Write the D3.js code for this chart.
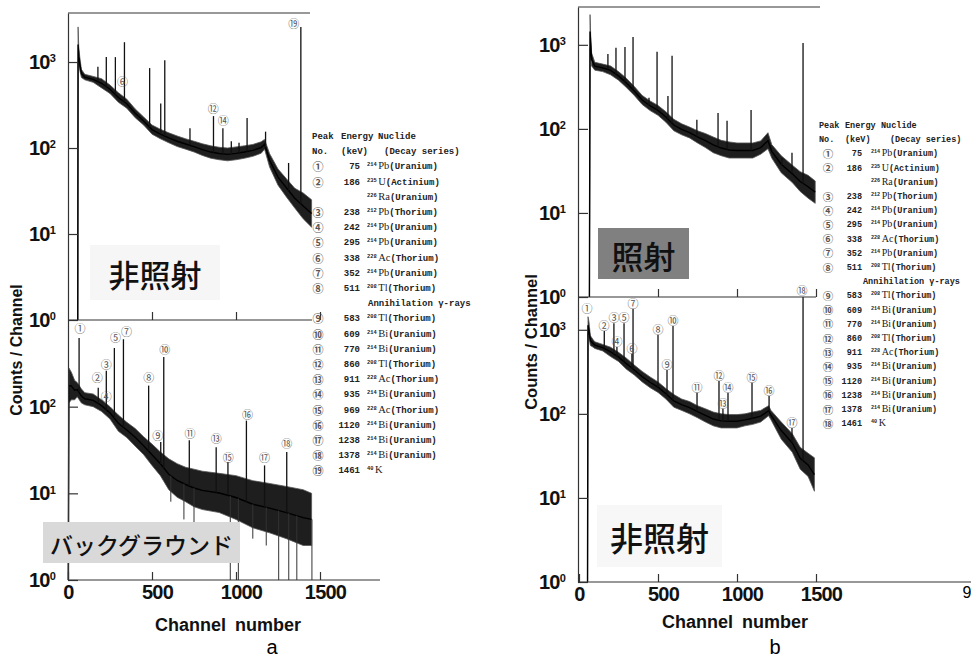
<!DOCTYPE html>
<html>
<head>
<meta charset="utf-8">
<style>
  body { margin: 0; background: #fff; }
  svg { display: block; }
  .tick line, .domain, .frame { stroke: #333; stroke-width: 1.2; }
  .ylab text, .xlab text { font-family: "Liberation Sans", Arial, sans-serif; font-weight: bold; font-size: 20px; fill: #111; letter-spacing: -0.8px; }
  .leg { font-family: "Liberation Mono", "DejaVu Sans Mono", monospace; font-weight: bold; fill: #222; }
  .circ { font-family: "Noto Sans CJK JP", sans-serif; fill: #555; }
  .title { font-family: "Liberation Sans", Arial, sans-serif; font-weight: bold; fill: #111; }
  .jp { font-family: "Noto Sans CJK JP", sans-serif; font-weight: 500; fill: #111; }
</style>
</head>
<body>
<script src="https://cdn.jsdelivr.net/npm/d3@7"></script>
<script>

// ---- data ----
// continuum: [channel, low edge of noise band, high edge of noise band]
var aTopCont = [[58,1,1],[60,1000,2560],[64,900,1500],[70,800,1150],[80,660,820],[100,620,720],
  [150,580,680],[200,500,640],[250,430,540],[300,340,440],[350,290,370],[400,225,285],[450,185,230],
  [500,145,185],[550,128,165],[600,115,150],[650,104,138],[700,97,128],[750,90,120],[800,82,112],
  [850,76,106],[900,73,102],[950,71,100],[1000,73,103],[1050,76,106],[1100,80,110],[1150,87,118],
  [1170,97,126],[1200,60,86],[1250,37,57],[1300,27,44],[1350,20,34],[1400,15,30],[1450,12,25]];
// spikes: [channel, top]
var aTopSpikes = [[178,880],[228,1140],[282,1140],[325,350],[336,1700],[420,240],[486,850],[552,330],
  [576,1050],[726,170],[866,235],[922,170],[972,120],[1018,115],[1066,223],[1176,155],[1313,67],[1386,2560]];
// labels: [peak no, channel, value]
var aTopLabels = [[6,324,600],[12,864,293],[14,924,212],[19,1344,2840]];

var aBotCont = [[2,1,1],[5,110,280],[20,120,250],[40,120,200],[55,130,190],[80,110,160],[100,105,145],
  [150,100,140],[200,88,120],[250,72,100],[300,52,80],[350,44,66],[400,35,56],[450,28,45],[500,21,37],
  [550,16,30],[600,11,25],[650,9,22],[700,8,20],[750,7,19],[800,6.5,18],[900,6,17],[1000,5,16],
  [1100,4,14],[1200,3.5,13],[1300,3,12],[1400,2.5,11],[1450,2.5,10]];
var aBotSpikes = [[66,620],[180,165],[228,260],[276,475],[330,600],[480,175],[552,39],[570,375],
  [722,41],[882,34],[952,23],[1062,69],[1170,21],[1302,30]];
var aBotDips = [[612,8],[690,5],[750,4],[966,1],[1014,1],[1100,3],[1180,2.5],[1254,1],[1314,1],[1362,1],[1452,1]];
var aBotLabels = [[1,72,810],[2,174,219],[3,228,310],[4,228,132],[5,282,630],[7,348,745],[8,480,219],
  [9,534,47],[10,576,460],[11,726,50],[13,882,43],[15,954,26],[16,1068,82],[17,1170,26],[18,1302,38]];

var bTopCont = [[66,1,1],[70,900,2290],[74,800,1300],[80,560,800],[100,500,620],[150,480,590],
  [200,440,560],[250,380,480],[300,310,400],[350,250,320],[400,195,250],[450,165,215],[500,145,190],
  [550,120,160],[600,95,130],[650,85,115],[700,78,105],[750,68,95],[800,60,88],[850,52,80],[900,48,73],
  [950,45,70],[1000,45,68],[1050,45,68],[1100,45,68],[1150,50,72],[1196,58,90],[1220,45,65],
  [1280,30,48],[1350,23,37],[1400,18,31],[1450,15,28],[1495,13,24]];
var bTopSpikes = [[183,780],[234,920],[291,940],[342,1240],[443,234],[494,830],[563,246],[589,740],
  [746,128],[880,155],[937,125],[1089,168],[1284,45],[1348,52],[1418,1050]];

var bBotCont = [[54,1,1],[57,900,1430],[63,800,1250],[72,650,850],[90,620,760],[100,600,720],
  [150,560,670],[200,480,620],[250,420,540],[300,340,460],[350,290,380],[400,240,320],[450,205,275],
  [500,180,240],[550,150,200],[600,120,170],[650,110,150],[700,100,140],[750,90,125],[800,80,115],
  [850,72,105],[900,68,100],[950,68,98],[1000,68,98],[1050,72,100],[1100,75,105],[1150,80,110],
  [1200,95,125],[1215,85,110],[1280,50,80],[1350,35,58],[1400,22,40],[1450,18,34],[1490,12,30]];
var bBotSpikes = [[160,970],[221,1200],[240,625],[285,1200],[335,520],[342,1780],[500,870],[557,333],
  [595,1110],[747,178],[886,246],[911,115],[943,178],[1095,234],[1203,163],[1348,68],[1418,2450]];
var bBotLabels = [[1,51,1820],[2,158,1150],[3,221,1420],[4,240,740],[5,285,1420],[6,335,610],
  [7,342,2090],[8,500,1030],[9,557,395],[10,595,1320],[11,747,210],[12,886,290],[13,911,135],
  [14,943,210],[15,1095,275],[16,1203,193],[17,1348,80],[18,1411,3000]];

var channelTicks = [0, 500, 1000, 1500];
var decadeTicks = [1, 10, 100, 1000];

// legend tables: [no, keV, mass number, element, series]
var legendA = [
  [1,"75","214","Pb","(Uranium)"],[2,"186","235","U","(Actinium)"],[0,"","226","Ra","(Uranium)"],
  [3,"238","212","Pb","(Thorium)"],[4,"242","214","Pb","(Uranium)"],[5,"295","214","Pb","(Uranium)"],
  [6,"338","228","Ac","(Thorium)"],[7,"352","214","Pb","(Uranium)"],[8,"511","208","Tl","(Thorium)"],
  [0,"","","Annihilation γ-rays",""],
  [9,"583","208","Tl","(Thorium)"],[10,"609","214","Bi","(Uranium)"],[11,"770","214","Bi","(Uranium)"],
  [12,"860","208","Tl","(Thorium)"],[13,"911","228","Ac","(Thorium)"],[14,"935","214","Bi","(Uranium)"],
  [15,"969","228","Ac","(Thorium)"],[16,"1120","214","Bi","(Uranium)"],[17,"1238","214","Bi","(Uranium)"],
  [18,"1378","214","Bi","(Uranium)"],[19,"1461","40","K",""]];
var legendB = [
  [1,"75","214","Pb","(Uranium)"],[2,"186","235","U","(Actinium)"],[0,"","226","Ra","(Uranium)"],
  [3,"238","212","Pb","(Thorium)"],[4,"242","214","Pb","(Uranium)"],[5,"295","214","Pb","(Uranium)"],
  [6,"338","228","Ac","(Thorium)"],[7,"352","214","Pb","(Uranium)"],[8,"511","208","Tl","(Thorium)"],
  [0,"","","Annihilation γ-rays",""],
  [9,"583","208","Tl","(Thorium)"],[10,"609","214","Bi","(Uranium)"],[11,"770","214","Bi","(Uranium)"],
  [12,"860","208","Tl","(Thorium)"],[13,"911","228","Ac","(Thorium)"],[14,"935","214","Bi","(Uranium)"],
  [15,"1120","214","Bi","(Uranium)"],[16,"1238","214","Bi","(Uranium)"],[17,"1378","214","Bi","(Uranium)"],
  [18,"1461","40","K",""]];

var circled = "①②③④⑤⑥⑦⑧⑨⑩⑪⑫⑬⑭⑮⑯⑰⑱⑲";

// ---- canvas ----
var svg = d3.select("body").append("svg").attr("width", 971).attr("height", 666);

// scales
var ax = d3.scaleLinear().domain([0, 1500]).range([68, 320]);
var ayTop = d3.scaleLog().domain([1, Math.pow(10, 3.57)]).range([320, 13]);
var ayBot = d3.scaleLog().domain([1, 1000]).range([580, 320]);
var bx = d3.scaleLinear().domain([0, 1500]).range([579, 816]);
var byTop = d3.scaleLog().domain([1, Math.pow(10, 3.45)]).range([297, 7]);
var byBot = d3.scaleLog().domain([1, Math.pow(10, 3.39)]).range([582, 297]);

function midAt(cont, ch) {
  var i = d3.bisector(d => d[0]).left(cont, ch);
  var a = cont[Math.max(i - 1, 0)], b = cont[Math.min(i, cont.length - 1)];
  var t = b[0] === a[0] ? 0 : (ch - a[0]) / (b[0] - a[0]);
  var la = Math.log(Math.sqrt(a[1] * a[2])), lb = Math.log(Math.sqrt(b[1] * b[2]));
  return Math.exp(la + t * (lb - la));
}

function spectrum(x, y, cont, spikes, dips) {
  var g = svg.append("g");
  g.append("path").datum(cont)
    .attr("d", d3.area().x(d => x(d[0])).y0(d => y(d[1])).y1(d => y(d[2])))
    .attr("fill", "#1e1e1e").attr("stroke", "#555").attr("stroke-width", 0.8);
  g.append("path").datum(cont)
    .attr("d", d3.line().x(d => x(d[0])).y(d => y(Math.sqrt(d[1] * d[2]))))
    .attr("fill", "none").attr("stroke", "#000").attr("stroke-width", 1.4);
  g.selectAll(".spike").data(spikes).enter().append("line")
    .attr("x1", d => x(d[0])).attr("x2", d => x(d[0]))
    .attr("y1", d => y(midAt(cont, d[0]))).attr("y2", d => y(d[1]))
    .attr("stroke", "#111").attr("stroke-width", 1.3);
  g.selectAll(".dip").data(dips || []).enter().append("line")
    .attr("x1", d => x(d[0])).attr("x2", d => x(d[0]))
    .attr("y1", d => y(midAt(cont, d[0]))).attr("y2", d => y(d[1]))
    .attr("stroke", "#333").attr("stroke-width", 1);
}

function peakLabels(x, y, labels) {
  svg.append("g").selectAll("text").data(labels).enter().append("text")
    .attr("class", "circ")
    .attr("x", d => x(d[1])).attr("y", d => y(d[2]))
    .attr("text-anchor", "middle").attr("dominant-baseline", "central")
    .attr("font-size", 11)
    .text(d => circled[d[0] - 1]);
}

function logAxis(x0, y, vals) {
  var g = svg.append("g").attr("class", "ylab").attr("transform", `translate(${x0},0)`)
    .call(d3.axisLeft(y).tickValues(vals).tickSize(-10).tickSizeOuter(0).tickPadding(13).tickFormat(""));
  g.selectAll(".tick text").each(function(d) {
    var t = d3.select(this);
    t.append("tspan").text("10");
    t.append("tspan").attr("dy", "-0.6em").style("font-size", "11px").text(Math.round(Math.log10(d)));
  });
}

function chanAxis(x, y0, labels, extend) {
  var g = svg.append("g").attr("class", "xlab").attr("transform", `translate(0,${y0})`)
    .call(d3.axisBottom(x).tickValues(labels ? channelTicks : channelTicks.slice(1))
      .tickSize(-8).tickSizeOuter(0).tickPadding(5).tickFormat(labels ? d3.format("d") : ""));
  g.select(".domain").remove();
  g.selectAll(".tick text").attr("dx", d => d ? 5 : 0);
  svg.append("line").attr("class", "frame")
    .attr("x1", x.range()[0]).attr("x2", extend).attr("y1", y0).attr("y2", y0);
}

function legend(rows, o) {
  var g = svg.append("g").attr("class", "leg").attr("font-size", o.fs);
  g.append("text").attr("x", o.head[0]).attr("y", o.y0 + 3).text("Peak");
  g.append("text").attr("x", o.head[1]).attr("y", o.y0 + 3).text("Energy");
  g.append("text").attr("x", o.head[2]).attr("y", o.y0 + 3).text("Nuclide");
  g.append("text").attr("x", o.head[0]).attr("y", o.y0 + o.dy + 3).text("No.");
  g.append("text").attr("x", o.head[1]).attr("y", o.y0 + o.dy + 3).text("(keV)");
  g.append("text").attr("x", o.head[3]).attr("y", o.y0 + o.dy + 3).text("(Decay series)");
  rows.forEach(function(r, i) {
    var yy = o.y0 + (i + 2) * o.dy;
    if (r[0]) g.append("text").attr("class", "circ").attr("x", o.no).attr("y", yy)
      .attr("text-anchor", "middle").attr("dominant-baseline", "central").attr("font-size", o.fs + 2)
      .text(circled[r[0] - 1]);
    if (r[1]) g.append("text").attr("x", o.kev).attr("y", yy + 3).attr("text-anchor", "end").text(r[1]);
    if (!r[2]) {
      g.append("text").attr("x", o.annih).attr("y", yy + 3).text(r[3]);
      return;
    }
    var t = g.append("text").attr("x", o.nuc).attr("y", yy + 3);
    t.append("tspan").attr("font-size", o.fs * 0.6).attr("dy", -3).text(r[2]);
    t.append("tspan").attr("font-size", o.fs + 1.5).attr("dy", 3).attr("dx", 1.5)
      .style("font-family", "'Liberation Serif', serif").style("font-weight", "normal").text(r[3]);
    t.append("tspan").text(r[4]);
  });
}

// ---- panel a ----
spectrum(ax, ayTop, aTopCont, aTopSpikes);
spectrum(ax, ayBot, aBotCont, aBotSpikes, aBotDips);
peakLabels(ax, ayTop, aTopLabels);
peakLabels(ax, ayBot, aBotLabels);

svg.append("line").attr("class", "frame").attr("x1", ax(0)).attr("x2", 310).attr("y1", ayTop.range()[1]).attr("y2", ayTop.range()[1]);
logAxis(ax(0), ayTop, decadeTicks);
logAxis(ax(0), ayBot, decadeTicks.slice(0, 3));
chanAxis(ax, ayTop(1), false, 312);
chanAxis(ax, ayBot(1), true, 380);

// ---- panel b ----
spectrum(bx, byTop, bTopCont, bTopSpikes);
spectrum(bx, byBot, bBotCont, bBotSpikes);
peakLabels(bx, byBot, bBotLabels);

svg.append("line").attr("class", "frame").attr("x1", bx(0) - 1).attr("x2", 820).attr("y1", byTop.range()[1]).attr("y2", byTop.range()[1]);
logAxis(bx(0) - 1, byTop, decadeTicks);
logAxis(bx(0) - 1, byBot, decadeTicks);
chanAxis(bx, byTop(1), false, bx(1500));
chanAxis(bx, byBot(1), true, 971);

// ---- boxed Japanese labels ----
function tag(x, y, w, h, fill, txt, fs) {
  svg.append("rect").attr("x", x).attr("y", y).attr("width", w).attr("height", h).attr("fill", fill);
  svg.append("text").attr("class", "jp").attr("x", x + w / 2).attr("y", y + h / 2 + 1)
    .attr("text-anchor", "middle").attr("dominant-baseline", "central")
    .attr("font-size", fs).text(txt);
}
tag(90, 245, 130, 55, "#f6f6f6", "非照射", 31);
tag(43, 522, 197, 41, "#d9d9d9", "バックグラウンド", 23);
tag(598, 228, 91, 51, "#808080", "照射", 32);
tag(597, 505, 125, 62, "#f7f7f7", "非照射", 33);

// ---- legends ----
legend(legendA, {fs: 9, y0: 136, dy: 15.2, head: [312, 341, 378, 384], no: 318, kev: 360, nuc: 367, annih: 368});
legend(legendB, {fs: 8.5, y0: 125, dy: 14.2, head: [819, 845, 881, 890], no: 828, kev: 862, nuc: 871, annih: 863});

// ---- titles ----
svg.append("text").attr("class", "title").attr("font-size", 16)
  .attr("transform", "translate(22,350) rotate(-90)").attr("text-anchor", "middle").text("Counts / Channel");
svg.append("text").attr("class", "title").attr("font-size", 16.5)
  .attr("transform", "translate(537,342) rotate(-90)").attr("text-anchor", "middle").text("Counts / Channel");
svg.append("text").attr("class", "title").attr("font-size", 18).attr("x", 228).attr("y", 631)
  .attr("text-anchor", "middle").attr("word-spacing", 4).text("Channel number");
svg.append("text").attr("class", "title").attr("font-size", 18).attr("x", 735).attr("y", 628)
  .attr("text-anchor", "middle").attr("word-spacing", 4).text("Channel number");
svg.append("text").attr("font-family", "Liberation Sans, Arial").attr("font-size", 20).attr("x", 272).attr("y", 654)
  .attr("text-anchor", "middle").text("a");
svg.append("text").attr("font-family", "Liberation Sans, Arial").attr("font-size", 20).attr("x", 775).attr("y", 654)
  .attr("text-anchor", "middle").text("b");
svg.append("text").attr("font-family", "Liberation Sans, Arial").attr("font-size", 16).attr("x", 967).attr("y", 598)
  .attr("text-anchor", "middle").text("9");

</script>
</body>
</html>
